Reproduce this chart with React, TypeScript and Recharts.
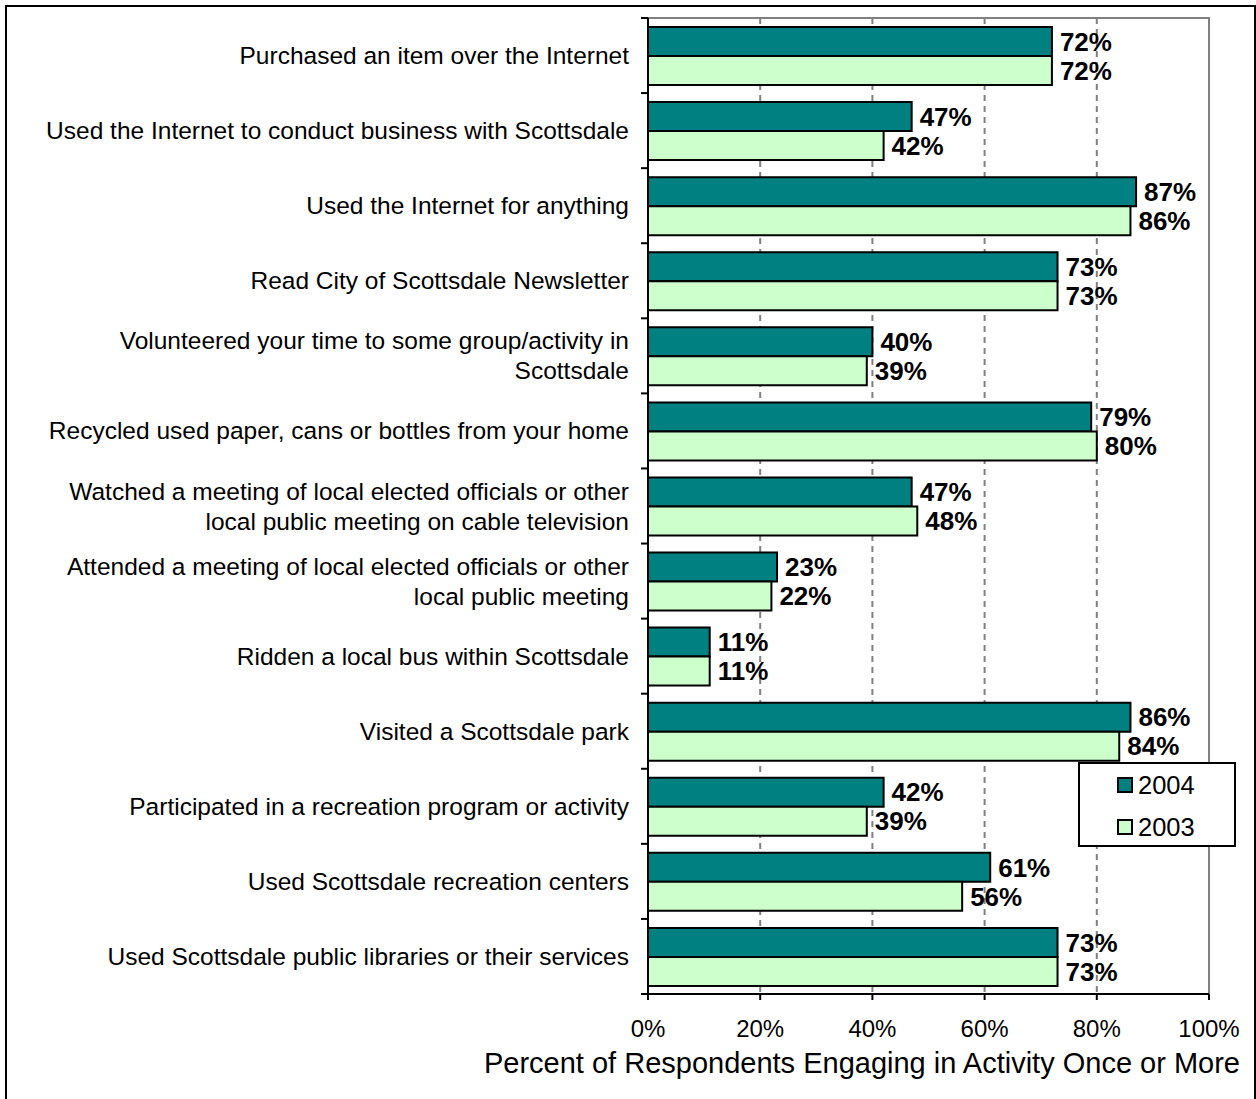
import React from "react";
import {
  BarChart,
  Bar,
  XAxis,
  YAxis,
  CartesianGrid,
  LabelList,
  Legend,
  ReferenceArea,
  Label,
} from "recharts";

const CATEGORIES = [
  "Purchased an item over the Internet",
  "Used the Internet to conduct business with Scottsdale",
  "Used the Internet for anything",
  "Read City of Scottsdale Newsletter",
  "Volunteered your time to some group/activity in\nScottsdale",
  "Recycled used paper, cans or bottles from your home",
  "Watched a meeting of local elected officials or other\nlocal public meeting on cable television",
  "Attended a meeting of local elected officials or other\nlocal public meeting",
  "Ridden a local bus within Scottsdale",
  "Visited a Scottsdale park",
  "Participated in a recreation program or activity",
  "Used Scottsdale recreation centers",
  "Used Scottsdale public libraries or their services",
];

const VALUES_2004 = [72, 47, 87, 73, 40, 79, 47, 23, 11, 86, 42, 61, 73];
const VALUES_2003 = [72, 42, 86, 73, 39, 80, 48, 22, 11, 84, 39, 56, 73];
const X_TICKS = [0, 20, 40, 60, 80, 100];
const SERIES_NAMES = ["2004", "2003"];
const X_TITLE = "Percent of Respondents Engaging in Activity Once or More";

const data = CATEGORIES.map((name, i) => ({
  name,
  v2004: VALUES_2004[i],
  v2003: VALUES_2003[i],
}));

const CHART_W = 1256;
const CHART_H = 1099;
const MARGIN = { top: 18, right: 47, bottom: 45, left: 0 };
const X_AXIS_H = 60;
const PLOT_H = CHART_H - MARGIN.top - MARGIN.bottom - X_AXIS_H;
const BAND = PLOT_H / CATEGORIES.length;
const FONT = "'Liberation Sans', Arial, sans-serif";

const CatTick = (props: any) => {
  const { x, y, payload, index } = props;
  const lines: string[] = String(payload.value).split("\n");
  const lh = 30;
  const isLast = index === CATEGORIES.length - 1;
  return (
    <g>
      <line x1={x - 7} x2={x} y1={y - BAND / 2} y2={y - BAND / 2} stroke="#000" strokeWidth={2} />
      {isLast && (
        <line x1={x - 7} x2={x} y1={y + BAND / 2} y2={y + BAND / 2} stroke="#000" strokeWidth={2} />
      )}
      <text
        x={x - 19}
        y={y}
        textAnchor="end"
        fontFamily={FONT}
        fontSize={24.5}
        fill="#000"
      >
        {lines.map((ln, k) => (
          <tspan key={k} x={x - 19} y={y + (k - (lines.length - 1) / 2) * lh + 8.5}>
            {ln}
          </tspan>
        ))}
      </text>
    </g>
  );
};

const LegendContent = (props: any) => {
  const payload = [...(props.payload || [])].sort(
    (a: any, b: any) => SERIES_NAMES.indexOf(String(a.value)) - SERIES_NAMES.indexOf(String(b.value))
  );
  return (
    <div
      style={{
        position: "relative",
        width: 158,
        height: 85,
        border: "2px solid #000",
        boxSizing: "border-box",
        background: "#fff",
        fontFamily: FONT,
        fontSize: 25.5,
        color: "#000",
      }}
    >
      {payload.map((p: any, i: number) => (
        <div
          key={i}
          style={{
            position: "absolute",
            left: 37,
            top: 5 + i * 42,
            height: 32,
            display: "flex",
            alignItems: "center",
          }}
        >
          <div
            style={{
              width: 16,
              height: 16,
              border: "2px solid #000",
              boxSizing: "border-box",
              background: p.color,
              marginRight: 5,
            }}
          />
          <span style={{ lineHeight: "32px" }}>{p.value}</span>
        </div>
      ))}
    </div>
  );
};

const XTitle = (props: any) => {
  const vb = props.viewBox || {};
  return (
    <text
      x={vb.x + vb.width + 31}
      y={vb.y + 79}
      textAnchor="end"
      fontFamily={FONT}
      fontSize={29}
      fill="#000"
    >
      {X_TITLE}
    </text>
  );
};

export default function App() {
  return (
    <div
      style={{
        position: "absolute",
        left: 0,
        top: 0,
        width: CHART_W,
        height: CHART_H,
        overflow: "hidden",
        background: "#fff",
      }}
    >
      <div
        style={{
          position: "absolute",
          left: 5,
          top: 5,
          width: 1251,
          height: 1200,
          border: "2px solid #000",
          boxSizing: "border-box",
        }}
      />
      <div style={{ position: "absolute", left: 0, top: 0 }}>
        <BarChart
          width={CHART_W}
          height={CHART_H}
          data={data}
          layout="vertical"
          margin={MARGIN}
          barGap={0}
          barSize={29}
        >
          <CartesianGrid
            horizontal={false}
            vertical={true}
            stroke="#808080"
            strokeWidth={2}
            strokeDasharray="6 5"
            verticalValues={[20, 40, 60, 80]}
          />
          <ReferenceArea
            x1={0}
            x2={100}
            stroke="#808080"
            strokeWidth={2}
            fill="none"
            fillOpacity={0}
          />
          <XAxis
            type="number"
            domain={[0, 100]}
            ticks={X_TICKS}
            tickFormatter={(v: number) => `${v}%`}
            height={X_AXIS_H}
            tickSize={6}
            tickMargin={20}
            axisLine={{ stroke: "#000", strokeWidth: 2 }}
            tickLine={{ stroke: "#000", strokeWidth: 2 }}
            tick={{ fill: "#000", fontSize: 24, fontFamily: FONT }}
            interval={0}
          >
            <Label content={<XTitle />} />
          </XAxis>
          <YAxis
            type="category"
            dataKey="name"
            width={648}
            tickSize={0}
            tickMargin={0}
            tickLine={false}
            axisLine={{ stroke: "#000", strokeWidth: 2 }}
            tick={<CatTick />}
            interval={0}
          />
          <Legend
            layout="vertical"
            align="center"
            verticalAlign="middle"
            content={<LegendContent />}
            wrapperStyle={{ position: "absolute", left: 1078, top: 762, width: 158, height: 85 }}
          />
          <Bar
            dataKey="v2004"
            name={SERIES_NAMES[0]}
            fill="#008080"
            stroke="#000"
            strokeWidth={2}
            isAnimationActive={false}
          >
            <LabelList
              dataKey="v2004"
              position="right"
              offset={8}
              formatter={(v: any) => `${v}%`}
              fill="#000"
              fontSize={26}
              fontWeight="bold"
              fontFamily={FONT}
            />
          </Bar>
          <Bar
            dataKey="v2003"
            name={SERIES_NAMES[1]}
            fill="#CCFFCC"
            stroke="#000"
            strokeWidth={2}
            isAnimationActive={false}
          >
            <LabelList
              dataKey="v2003"
              position="right"
              offset={8}
              formatter={(v: any) => `${v}%`}
              fill="#000"
              fontSize={26}
              fontWeight="bold"
              fontFamily={FONT}
            />
          </Bar>
        </BarChart>
      </div>
    </div>
  );
}
